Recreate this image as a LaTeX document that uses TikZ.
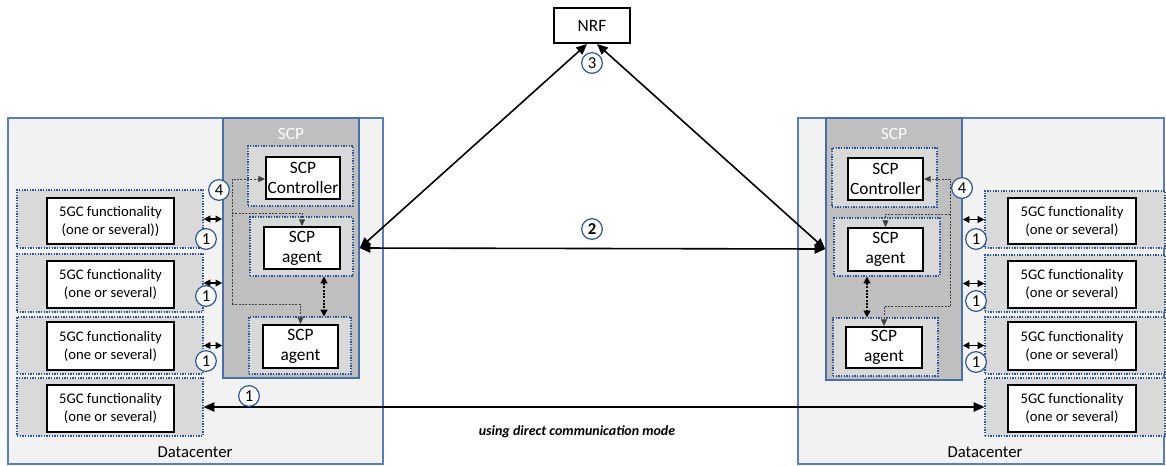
\documentclass[tikz,border=0pt]{standalone}
\usepackage{fontspec}
\setmainfont{Carlito}
\usetikzlibrary{arrows.meta,fit,calc}
\definecolor{dcfill}{HTML}{F2F2F2}
\definecolor{dcline}{HTML}{5B7DB8}
\definecolor{scpfill}{HTML}{BFBFBF}
\definecolor{scpline}{HTML}{4A6EA8}
\definecolor{contfill}{HTML}{D9D9D9}
\definecolor{contline}{HTML}{2F5597}
\definecolor{numblue}{HTML}{2F5597}
\begin{document}
\begin{tikzpicture}[x=0.75pt,y=-0.75pt,
  dc/.style={draw=dcline, fill=dcfill, line width=0.8pt, inner sep=0pt},
  scpbox/.style={draw=scpline, fill=scpfill, line width=1.2pt, inner sep=0pt},
  cont/.style={draw=contline, fill=contfill, line width=0.9pt, dash pattern=on 1pt off 1pt, inner sep=0pt},
  wbox/.style={draw=black, fill=white, line width=1.5pt, inner sep=0pt},
  scptext/.style={align=center, inner sep=0pt, font=\fontsize{13}{15}\selectfont},
  gtext/.style={align=center, inner sep=0pt, font=\fontsize{11}{13.5}\selectfont},
  hdr/.style={font=\fontsize{13}{15}\selectfont, text=white},
  num/.style={circle, draw=numblue, line width=0.9pt, minimum size=15.5pt, inner sep=0pt, font=\fontsize{12.5}{13}\selectfont, fill=white},
  lbl/.style={font=\fontsize{12.5}{15}\selectfont},
  mainarr/.style={line width=1.2pt, {Triangle[length=8pt,width=7pt]}-{Triangle[length=8pt,width=7pt]}},
  shortarr/.style={line width=1.1pt, {Triangle[length=5pt,width=5pt]}-{Triangle[length=5pt,width=5pt]}},
  ctlarr/.style={line width=0.7pt, black!75, dash pattern=on 1.5pt off 1pt, -{Triangle[length=5pt,width=4.5pt]}},
  agarr/.style={line width=1.2pt, dash pattern=on 1.5pt off 1pt, {Triangle[length=5pt,width=5pt]}-{Triangle[length=5pt,width=5pt]}}
]
\useasboundingbox (0,0) rectangle (1166,465);
\fill[white] (0,0) rectangle (1166,465);

% Datacenters
\node[dc, fit={(8,118) (383,464)}] (dcL) {};
\node[dc, fit={(798,118) (1164,464)}] (dcR) {};

% SCP boxes
\node[scpbox, fit={(223,118) (359,378)}] (scpL) {};
\node[scpbox, fit={(826,118) (962,380)}] (scpR) {};
\node[hdr] (scpLt) at (291,134) {SCP};
\node[hdr] (scpRt) at (894,134) {SCP};

% left SCP internals
\node[cont, fit={(248,146) (353,206)}] (ctlLc) {};
\node[cont, fit={(250,217) (353,276)}] (agL1c) {};
\node[cont, fit={(249,317) (351,374)}] (agL2c) {};
\node[wbox, fit={(266,157) (340,199)}] (ctlL) {};
\node[wbox, fit={(264,227) (340,269)}] (agL1) {};
\node[wbox, fit={(263,325) (338,368)}] (agL2) {};
\node[scptext] (ctlLt) at (ctlL.center) {SCP\\Controller};
\node[scptext] (agL1t) at (agL1.center) {SCP\\agent};
\node[scptext] (agL2t) at (agL2.center) {SCP\\agent};

% right SCP internals
\node[cont, fit={(832,148) (937,207)}] (ctlRc) {};
\node[cont, fit={(834,218) (940,276)}] (agR1c) {};
\node[cont, fit={(833,318) (938,376)}] (agR2c) {};
\node[wbox, fit={(848,158) (923,200)}] (ctlR) {};
\node[wbox, fit={(848,228) (923,271)}] (agR1) {};
\node[wbox, fit={(846,327) (922,368)}] (agR2) {};
\node[scptext] (ctlRt) at (ctlR.center) {SCP\\Controller};
\node[scptext] (agR1t) at (agR1.center) {SCP\\agent};
\node[scptext] (agR2t) at (agR2.center) {SCP\\agent};

% left 5GC
\node[cont, fit={(17,190) (203,248)}] (gL1c) {};
\node[cont, fit={(17,254) (203,312)}] (gL2c) {};
\node[cont, fit={(17,317) (203,374)}] (gL3c) {};
\node[cont, fit={(17,378) (203,436)}] (gL4c) {};
\node[wbox, fit={(47,198) (174,244)}] (gL1) {};
\node[wbox, fit={(47,261) (174,308)}] (gL2) {};
\node[wbox, fit={(47,322) (174,370)}] (gL3) {};
\node[wbox, fit={(47,385) (174,432)}] (gL4) {};
\node[gtext] (gL1t) at (gL1.center) {5GC functionality\\(one or several))};
\node[gtext] (gL2t) at (gL2.center) {5GC functionality\\(one or several)};
\node[gtext] (gL3t) at (gL3.center) {5GC functionality\\(one or several)};
\node[gtext] (gL4t) at (gL4.center) {5GC functionality\\(one or several)};

% right 5GC
\node[cont, fit={(985,191) (1165,248)}] (gR1c) {};
\node[cont, fit={(985,255) (1165,312)}] (gR2c) {};
\node[cont, fit={(985,317) (1165,374)}] (gR3c) {};
\node[cont, fit={(985,378) (1165,436)}] (gR4c) {};
\node[wbox, fit={(1008,198) (1136,244)}] (gR1) {};
\node[wbox, fit={(1008,261) (1136,308)}] (gR2) {};
\node[wbox, fit={(1008,322) (1136,370)}] (gR3) {};
\node[wbox, fit={(1008,385) (1136,432)}] (gR4) {};
\node[gtext] (gR1t) at (gR1.center) {5GC functionality\\(one or several)};
\node[gtext] (gR2t) at (gR2.center) {5GC functionality\\(one or several)};
\node[gtext] (gR3t) at (gR3.center) {5GC functionality\\(one or several)};
\node[gtext] (gR4t) at (gR4.center) {5GC functionality\\(one or several)};

% NRF
\node[wbox, fit={(554,8) (630,43)}] (nrf) {};
\node[scptext] (nrft) at (nrf.center) {NRF};

% main connectors
\draw[mainarr] ($(nrf.south)+(-5,0)$) -- (scpL.east);
\draw[mainarr] ($(nrf.south)+(5,0)$) -- (scpR.west);
\draw[mainarr] (scpL.east) -- (scpR.west);
\draw[mainarr, line width=1pt] (gL4c.east) -- (gR4c.west);

% short double arrows
\draw[shortarr] (gL1c.east) -- (gL1c.east -| scpL.west);
\draw[shortarr] (gL2c.east) -- (gL2c.east -| scpL.west);
\draw[shortarr] (gL3c.east) -- (gL3c.east -| scpL.west);
\draw[shortarr] (gR1c.west -| scpR.east) -- (gR1c.west);
\draw[shortarr] (gR2c.west -| scpR.east) -- (gR2c.west);
\draw[shortarr] (gR3c.west -| scpR.east) -- (gR3c.west);

% control connectors (4)
\coordinate (L4t) at (232,179);
\coordinate (L4m) at (232,213);
\coordinate (L4b) at (232,304);
\draw[ctlarr] (L4b) -- (L4t) -- (L4t -| ctlL.west);
\draw[ctlarr] (L4m) -| (agL1.north);
\draw[ctlarr] (L4b) -| (agL2.north);
\coordinate (R4t) at (950,179);
\coordinate (R4m) at (950,214);
\coordinate (R4b) at (950,306);
\draw[ctlarr] (R4b) -- (R4t) -- (R4t -| ctlR.east);
\draw[ctlarr] (R4m) -| (agR1.north);
\draw[ctlarr] (R4b) -| (agR2.north);

% agent to agent
\coordinate (axL) at (324,300);
\coordinate (axR) at (867,300);
\draw[agarr] (axL |- agL1c.south) -- (axL |- agL2c.north);
\draw[agarr] (axR |- agR1c.south) -- (axR |- agR2c.north);

% numbered circles
\node[num] (n3) at (592,63) {3};
\node[num, font=\fontsize{12.5}{13}\selectfont\bfseries] (n2) at (592,229) {2};
\node[num] (n4L) at (219,190) {4};
\node[num] (n1La) at (206,239) {1};
\node[num] (n1Lb) at (206,296) {1};
\node[num] (n1Lc) at (206,361) {1};
\node[num] (n1Ld) at (249,396) {1};
\node[num] (n4R) at (962,188) {4};
\node[num] (n1Ra) at (976,239) {1};
\node[num] (n1Rb) at (976,301) {1};
\node[num] (n1Rc) at (976,362) {1};

% labels
\node[lbl] (dcLt) at (195,452) {Datacenter};
\node[lbl] (dcRt) at (985,452) {Datacenter};
\node[font=\fontsize{10.5}{12}\selectfont\bfseries\itshape] (mode) at (577,432) {using direct communication mode};
\end{tikzpicture}
\end{document}
